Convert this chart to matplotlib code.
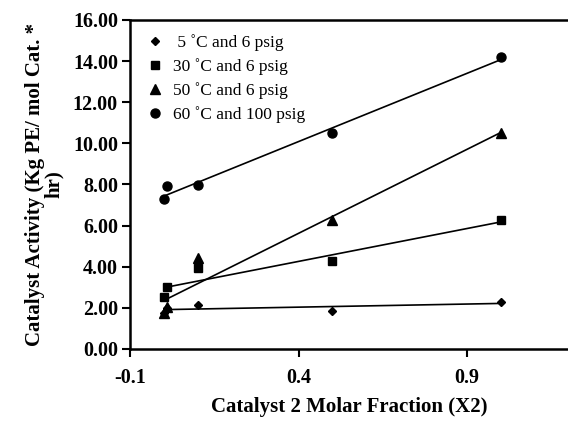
import numpy as np
import matplotlib
matplotlib.use("Agg")
import matplotlib.pyplot as plt

# Catalyst 2 molar fraction (X2) and catalyst activity for each condition
x_vals = [0.0, 0.01, 0.1, 0.5, 1.0]
act_5c = [1.75, 2.0, 2.15, 1.85, 2.3]
act_30c = [2.55, 3.0, 3.95, 4.3, 6.25]
act_50c = [1.75, 2.05, 4.4, 6.25, 10.5]
act_60c = [7.3, 7.9, 7.95, 10.5, 14.2]

labels = [" 5 \u02daC and 6 psig", "30 \u02daC and 6 psig",
          "50 \u02daC and 6 psig", "60 \u02daC and 100 psig"]
markers = ["D", "s", "^", "o"]
msizes = [4.5, 6, 6.5, 6.5]

plt.rcParams["font.family"] = ["Liberation Serif", "DejaVu Serif"]

fig = plt.figure(figsize=(5.68, 4.23), dpi=100)
ax = fig.add_axes([0.2296, 0.175, 0.7704, 0.778])

series = [act_5c, act_30c, act_50c, act_60c]
xs = np.array(x_vals)
for ys, lab, mk, ms in zip(series, labels, markers, msizes):
    ax.plot(xs, ys, linestyle="none", marker=mk, markersize=ms,
            color="black", label=lab)
    # linear trendline through the points
    k, b = np.polyfit(xs, ys, 1)
    ax.plot([xs.min(), xs.max()], [b, k * xs.max() + b], color="black", lw=1.2)

ax.set_xlim(-0.1, 1.2)
ax.set_ylim(0, 16)
ax.set_xticks([-0.1, 0.4, 0.9])
ax.set_xticklabels(["-0.1", "0.4", "0.9"])
ax.set_yticks(np.arange(0, 17, 2))
ax.set_yticklabels([f"{v:.2f}" for v in np.arange(0, 17, 2)])

for lbl in ax.get_xticklabels() + ax.get_yticklabels():
    lbl.set_fontweight("bold")
    lbl.set_fontsize(14.5)

ax.tick_params(direction="out", length=6, width=1.5, pad=3)
ax.tick_params(axis="x", pad=8)
for side in ["left", "bottom", "top"]:
    ax.spines[side].set_linewidth(1.8)
ax.spines["right"].set_visible(False)

ax.set_xlabel("Catalyst 2 Molar Fraction (X2)", fontsize=15,
              fontweight="bold", labelpad=6)
ax.set_ylabel("Catalyst Activity (Kg PE/ mol Cat. *\nhr)", fontsize=15,
              fontweight="bold", labelpad=6, linespacing=0.95)

ax.legend(loc="upper left", frameon=False, fontsize=12.5, handlelength=1.0,
          handletextpad=0.5, labelspacing=0.42, borderaxespad=0.4,
          bbox_to_anchor=(0.005, 1.0))

fig.savefig("out.png", dpi=100)
